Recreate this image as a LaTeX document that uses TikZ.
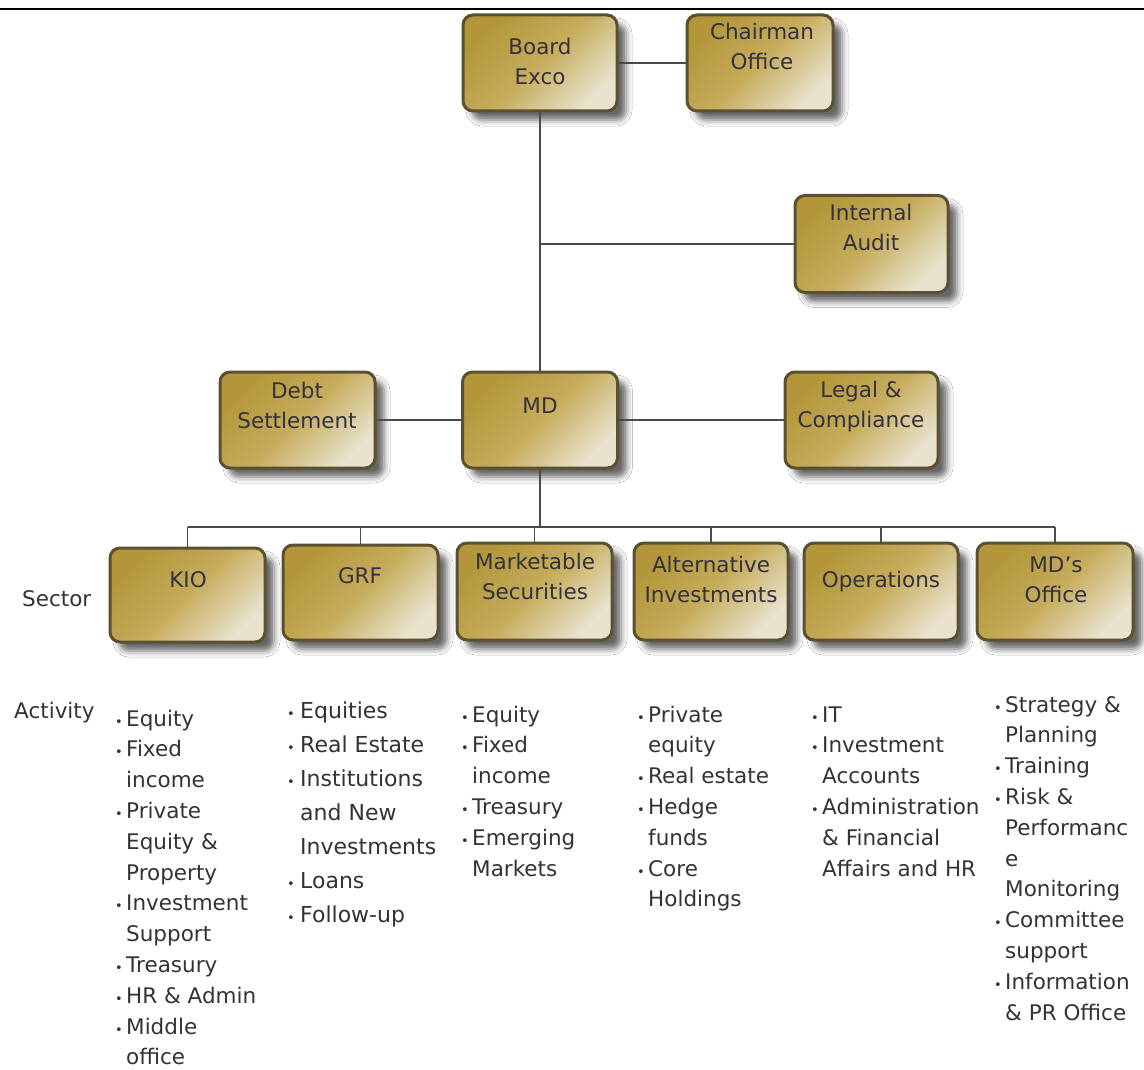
\documentclass[tikz,border=0pt]{standalone}
\usepackage{fontspec}
\setmainfont{DejaVu Sans}
\usetikzlibrary{shadows.blur}

\definecolor{goldA}{HTML}{B39639}
\definecolor{goldB}{HTML}{C6AC5C}
\definecolor{goldC}{HTML}{E9E3CE}
\definecolor{rim}{HTML}{5C5030}
\definecolor{wire}{HTML}{4A4A4A}
\definecolor{ink}{HTML}{33313D}
\definecolor{listink}{HTML}{333333}

\newcommand\dotmark{{\fontsize{13}{13}\selectfont •}}

\tikzset{
  unit/.style={rectangle, rounded corners=10pt, draw=rim, line width=3pt,
    top color=goldA, bottom color=goldC, middle color=goldB, shading angle=45,
    blur shadow={shadow xshift=9pt, shadow yshift=-9pt, shadow blur radius=6pt, shadow opacity=60},
    inner sep=0pt},
  unittext/.style={font=\fontsize{21.5}{30}\selectfont, text=ink, inner sep=0pt, anchor=base},
  side/.style={font=\fontsize{21.5}{30}\selectfont, text=listink, inner sep=0pt, anchor=base west},
  tasks/.style={font=\fontsize{21.5}{30.8}\selectfont, text=listink, inner sep=0pt, anchor=base west},
  wirestyle/.style={draw=wire, line width=1.8pt}
}

\begin{document}
\begin{tikzpicture}[x=1pt, y=-1pt]
\useasboundingbox (0,0) rectangle (1144,1070);
\fill[white] (0,0) rectangle (1144,1070);

% rule across the top
\draw[line width=2pt, black] (0,9) -- (1144,9);

% ---- governance level
\node[unit, minimum width=154pt, minimum height=96pt] (board) at (540,63) {};
\node[unit, minimum width=146pt, minimum height=96pt] (chair) at (760,63) {};
\node[unit, minimum width=153pt, minimum height=97pt] (audit) at (871.5,244) {};

% ---- management level
\node[unit, minimum width=155pt, minimum height=96pt] (debt) at (297.5,420) {};
\node[unit, minimum width=155pt, minimum height=96pt] (md) at (540,420) {};
\node[unit, minimum width=153pt, minimum height=96pt] (legal) at (861.5,420) {};

% ---- sectors
\node[unit, minimum width=155pt, minimum height=94pt] (kio) at (187.5,595) {};
\node[unit, minimum width=155pt, minimum height=95pt] (grf) at (360.5,592.5) {};
\node[unit, minimum width=155pt, minimum height=97pt] (mkt) at (534.5,591.5) {};
\node[unit, minimum width=154pt, minimum height=97pt] (alt) at (711,591.5) {};
\node[unit, minimum width=154pt, minimum height=97pt] (ops) at (881,591.5) {};
\node[unit, minimum width=156pt, minimum height=97pt] (mdo) at (1055,591.5) {};

% reporting lines
\coordinate (bus) at (540,527);
\draw[wirestyle] (board.east) -- (chair.west);
\draw[wirestyle] (board.south) -- (md.north);
\draw[wirestyle] (board.south |- audit.west) -- (audit.west);
\draw[wirestyle] (debt.east) -- (md.west);
\draw[wirestyle] (md.east) -- (legal.west);
\draw[wirestyle] (md.south) -- (bus);
\draw[wirestyle] (bus -| kio.north) -- (bus -| mdo.north);
\foreach \s in {kio,grf,mkt,alt,ops,mdo}
  \draw[wirestyle] (bus -| \s.north) -- (\s.north);

% box captions
\node[unittext] (board-t) at (540,55) {\begin{tabular}[t]{@{}c@{}}Board\\Exco\end{tabular}};
\node[unittext] (chair-t) at (762,40) {\begin{tabular}[t]{@{}c@{}}Chairman\\Office\end{tabular}};
\node[unittext] (audit-t) at (871,220) {\begin{tabular}[t]{@{}c@{}}Internal\\Audit\end{tabular}};
\node[unittext] (debt-t) at (297,398) {\begin{tabular}[t]{@{}c@{}}Debt\\Settlement\end{tabular}};
\node[unittext] (md-t) at (540,413) {MD};
\node[unittext] (legal-t) at (861,397) {\begin{tabular}[t]{@{}c@{}}Legal \&\\Compliance\end{tabular}};
\node[unittext] (kio-t) at (188,587) {KIO};
\node[unittext] (grf-t) at (360,583) {GRF};
\node[unittext] (mkt-t) at (535,569) {\begin{tabular}[t]{@{}c@{}}Marketable\\Securities\end{tabular}};
\node[unittext] (alt-t) at (711,572) {\begin{tabular}[t]{@{}c@{}}Alternative\\Investments\end{tabular}};
\node[unittext] (ops-t) at (881,587) {Operations};
\node[unittext] (mdo-t) at (1056,572) {\begin{tabular}[t]{@{}c@{}}MD's\\Office\end{tabular}};

% row headings
\node[side] (sector) at (22,606) {Sector};
\node[side] (activity) at (14,718) {Activity};

% activity lists
\node[tasks] (kio-a) at (115,726) {\begin{tabular}[t]{@{}p{11pt}@{}l@{}}
\dotmark & Equity\\
\dotmark & Fixed\\
 & income\\
\dotmark & Private\\
 & Equity \&\\
 & Property\\
\dotmark & Investment\\
 & Support\\
\dotmark & Treasury\\
\dotmark & HR \& Admin\\
\dotmark & Middle\\
 & office
\end{tabular}};

\node[tasks, font=\fontsize{22}{34}\selectfont] (grf-a) at (287,718) {\begin{tabular}[t]{@{}p{13pt}@{}l@{}}
\dotmark & Equities\\
\dotmark & Real Estate\\
\dotmark & Institutions\\
 & and New\\
 & Investments\\
\dotmark & Loans\\
\dotmark & Follow-up
\end{tabular}};

\node[tasks] (mkt-a) at (461,722) {\begin{tabular}[t]{@{}p{11pt}@{}l@{}}
\dotmark & Equity\\
\dotmark & Fixed\\
 & income\\
\dotmark & Treasury\\
\dotmark & Emerging\\
 & Markets
\end{tabular}};

\node[tasks] (alt-a) at (637,722) {\begin{tabular}[t]{@{}p{11pt}@{}l@{}}
\dotmark & Private\\
 & equity\\
\dotmark & Real estate\\
\dotmark & Hedge\\
 & funds\\
\dotmark & Core\\
 & Holdings
\end{tabular}};

\node[tasks] (ops-a) at (811,722) {\begin{tabular}[t]{@{}p{11pt}@{}l@{}}
\dotmark & IT\\
\dotmark & Investment\\
 & Accounts\\
\dotmark & Administration\\
 & \& Financial\\
 & Affairs and HR
\end{tabular}};

\node[tasks] (mdo-a) at (994,712) {\begin{tabular}[t]{@{}p{11pt}@{}l@{}}
\dotmark & Strategy \&\\
 & Planning\\
\dotmark & Training\\
\dotmark & Risk \&\\
 & Performanc\\
 & e\\
 & Monitoring\\
\dotmark & Committee\\
 & support\\
\dotmark & Information\\
 & \& PR Office
\end{tabular}};

\end{tikzpicture}
\end{document}
